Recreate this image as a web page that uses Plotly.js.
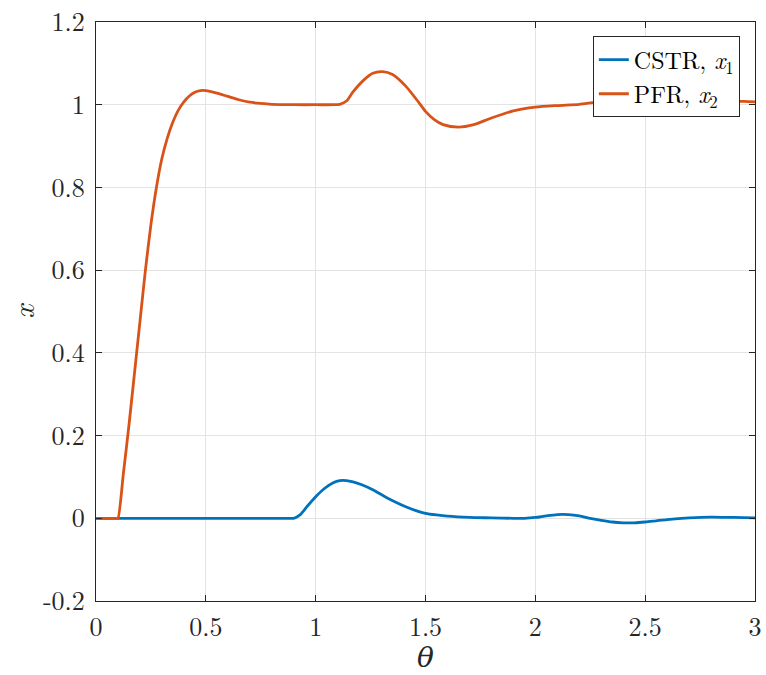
<!DOCTYPE html>
<html>
<head>
<meta charset="utf-8">
<script src="https://cdn.plot.ly/plotly-3.0.1.min.js"></script>
<style>html,body{margin:0;padding:0;background:#fff;}#chart{width:766px;height:675px;}</style>
</head>
<body>
<div id="chart"></div>
<script>
// CSTR, x1
const thetaCSTR = [0, 0.5, 0.895, 0.9, 0.93, 0.96, 1.0, 1.04, 1.08, 1.11, 1.14, 1.17, 1.21, 1.26, 1.31, 1.36, 1.41, 1.46, 1.5, 1.55, 1.6, 1.7, 1.8, 1.9, 1.95, 2.0, 2.05, 2.1, 2.15, 2.2, 2.25, 2.3, 2.35, 2.4, 2.45, 2.5, 2.55, 2.6, 2.7, 2.8, 2.9, 3.0];
const xCSTR     = [0, 0,   0,     0,   0.009, 0.028, 0.052, 0.072, 0.086, 0.091, 0.091, 0.088, 0.081, 0.069, 0.054, 0.040, 0.028, 0.018, 0.012, 0.008, 0.005, 0.002, 0.001, 0.0, 0.0, 0.002, 0.006, 0.009, 0.009, 0.006, 0.0, -0.005, -0.009, -0.011, -0.011, -0.009, -0.006, -0.003, 0.001, 0.003, 0.002, 0.001];
// PFR, x2
const thetaPFR = [0, 0.095, 0.1, 0.125, 0.15, 0.175, 0.2, 0.225, 0.25, 0.275, 0.3, 0.325, 0.35, 0.375, 0.4, 0.425, 0.45, 0.475, 0.5, 0.55, 0.6, 0.65, 0.7, 0.75, 0.8, 0.9, 1.0, 1.08, 1.11, 1.14, 1.17, 1.22, 1.26, 1.305, 1.35, 1.41, 1.46, 1.5, 1.54, 1.58, 1.65, 1.72, 1.8, 1.9, 2.0, 2.1, 2.2, 2.26, 2.31, 2.36, 2.42, 2.48, 2.53, 2.58, 2.63, 2.7, 2.77, 2.83, 2.9, 2.95, 3.0];
const xPFR     = [0, 0,     0,   0.11,  0.225, 0.35, 0.475, 0.6, 0.71, 0.8, 0.87, 0.92, 0.958, 0.987, 1.007, 1.021, 1.03, 1.034, 1.034, 1.028, 1.02, 1.012, 1.006, 1.003, 1.001, 1.0, 1.0, 1.0, 1.001, 1.009, 1.031, 1.06, 1.076, 1.08, 1.073, 1.045, 1.012, 0.984, 0.964, 0.952, 0.946, 0.952, 0.968, 0.985, 0.994, 0.998, 1.001, 1.005, 1.008, 1.006, 0.998, 0.989, 0.985, 0.984, 0.987, 0.996, 1.003, 1.006, 1.008, 1.008, 1.007];

const xTicks = [0, 0.5, 1, 1.5, 2, 2.5, 3];
const xTickText = ['0', '0.5', '1', '1.5', '2', '2.5', '3'];
const yTicks = [-0.2, 0, 0.2, 0.4, 0.6, 0.8, 1, 1.2];
const yTickText = ['-0.2', '0', '0.2', '0.4', '0.6', '0.8', '1', '1.2'];

const FONT = 'Latin Modern Roman, CMU Serif, DejaVu Serif, serif';
const axisColor = '#262626';

const traces = [
  {x: thetaCSTR, y: xCSTR, type: 'scatter', mode: 'lines', name: 'CSTR, <i>x</i><sub>1</sub>',
   line: {color: '#0072BD', width: 2.8, shape: 'spline', smoothing: 0.7}},
  {x: thetaPFR, y: xPFR, type: 'scatter', mode: 'lines', name: 'PFR, <i>x</i><sub>2</sub>',
   line: {color: '#D95319', width: 2.8, shape: 'spline', smoothing: 0.7}}
];

const layout = {
  width: 766, height: 675,
  margin: {l: 96, r: 11, t: 22, b: 74},
  paper_bgcolor: '#fff', plot_bgcolor: '#fff',
  font: {family: FONT, size: 26, color: axisColor},
  showlegend: true,
  legend: {x: 0.977, y: 0.975, xanchor: 'right', yanchor: 'top',
           bgcolor: '#fff', bordercolor: axisColor, borderwidth: 1,
           font: {family: FONT, size: 24, color: '#000'}, tracegroupgap: 0},
  xaxis: {range: [0, 3], tickvals: xTicks, ticktext: xTickText,
          showgrid: true, gridcolor: '#e3e3e3', gridwidth: 1, zeroline: false,
          showline: true, linecolor: axisColor, linewidth: 1, mirror: 'ticks',
          ticks: 'inside', ticklen: 6, tickcolor: axisColor, ticklabelstandoff: 3,
          tickfont: {family: FONT, size: 26, color: axisColor},
          title: {text: '<i>θ</i>', font: {family: FONT, size: 28}, standoff: 13}},
  yaxis: {range: [-0.2, 1.2], tickvals: yTicks, ticktext: yTickText,
          showgrid: true, gridcolor: '#e3e3e3', gridwidth: 1, zeroline: false,
          showline: true, linecolor: axisColor, linewidth: 1, mirror: 'ticks',
          ticks: 'inside', ticklen: 6, tickcolor: axisColor, ticklabelstandoff: 5,
          tickfont: {family: FONT, size: 26, color: axisColor},
          title: {text: '<i>x</i>', font: {family: FONT, size: 30}, standoff: 16}}
};

Plotly.newPlot('chart', traces, layout, {displayModeBar: false, staticPlot: true});
</script>
</body>
</html>
